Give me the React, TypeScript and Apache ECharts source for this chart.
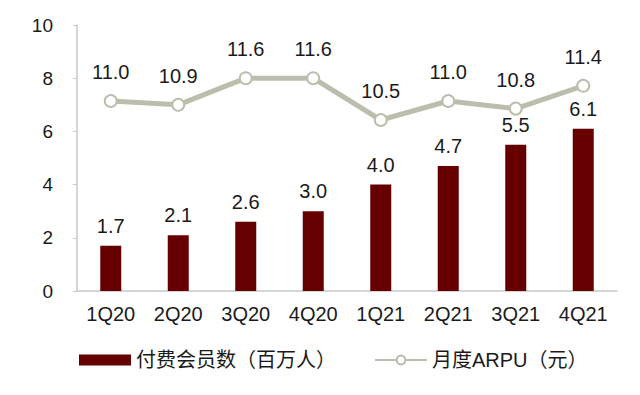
import React, { useEffect, useRef } from "react";
import * as echarts from "echarts";

const categories = ["1Q20", "2Q20", "3Q20", "4Q20", "1Q21", "2Q21", "3Q21", "4Q21"];
const members = [1.7, 2.1, 2.6, 3.0, 4.0, 4.7, 5.5, 6.1];
const arpu = [11.0, 10.9, 11.6, 11.6, 10.5, 11.0, 10.8, 11.4];
const yTicks = [0, 2, 4, 6, 8, 10];

const FONT = '"Liberation Sans", Arial, "Noto Sans CJK SC", sans-serif';
const BAR = "#660000";
const LINE = "#bdbdad";
const TXT = "#1a1a1a";

export default function App() {
  const ref = useRef<HTMLDivElement>(null);
  useEffect(() => {
    if (!ref.current) return;
    const chart = echarts.init(ref.current, undefined, { renderer: "svg" });
    chart.setOption({
      animation: false,
      textStyle: { fontFamily: FONT },
      grid: { left: 77, right: 23, top: 25, bottom: 104 },
      legend: {
        bottom: 20,
        left: 74,
        itemWidth: 52,
        itemHeight: 11,
        itemGap: 38,
        textStyle: { fontSize: 20, color: TXT, fontFamily: FONT },
        data: [
          { name: "付费会员数（百万人）", icon: "rect" },
          { name: "月度ARPU（元）" },
        ],
      },
      xAxis: {
        type: "category",
        data: categories,
        axisLine: { lineStyle: { color: "#c8c8c8", width: 1.5 } },
        axisTick: { show: false },
        axisLabel: { fontSize: 20, color: TXT, margin: 13, fontFamily: FONT },
      },
      yAxis: [
        {
          type: "value",
          min: yTicks[0],
          max: yTicks[yTicks.length - 1],
          interval: 2,
          axisLine: { show: true, lineStyle: { color: "#c8c8c8", width: 1.5 } },
          axisTick: { show: true, length: 4, lineStyle: { color: "#c8c8c8" } },
          splitLine: { show: false },
          axisLabel: { fontSize: 19, color: TXT, margin: 24, fontFamily: FONT },
        },
        {
          type: "value",
          min: 6,
          max: 13,
          show: false,
          splitLine: { show: false },
        },
      ],
      series: [
        {
          name: "付费会员数（百万人）",
          type: "bar",
          data: members,
          barWidth: 21,
          itemStyle: { color: BAR },
          label: {
            show: true,
            position: "top",
            distance: 10,
            fontSize: 20,
            color: TXT,
            fontFamily: FONT,
            formatter: (p: any) => Number(p.value).toFixed(1),
          },
        },
        {
          name: "月度ARPU（元）",
          type: "line",
          yAxisIndex: 1,
          data: arpu,
          symbol: "circle",
          symbolSize: 12,
          lineStyle: { color: LINE, width: 5 },
          itemStyle: { color: "#fff", borderColor: LINE, borderWidth: 2 },
          label: {
            show: true,
            position: "top",
            distance: 12,
            fontSize: 20,
            color: TXT,
            fontFamily: FONT,
            formatter: (p: any) => Number(p.value).toFixed(1),
          },
        },
      ],
    });
    return () => chart.dispose();
  }, []);
  return <div ref={ref} style={{ width: 640, height: 395, position: "absolute", left: 0, top: 0 }} />;
}
